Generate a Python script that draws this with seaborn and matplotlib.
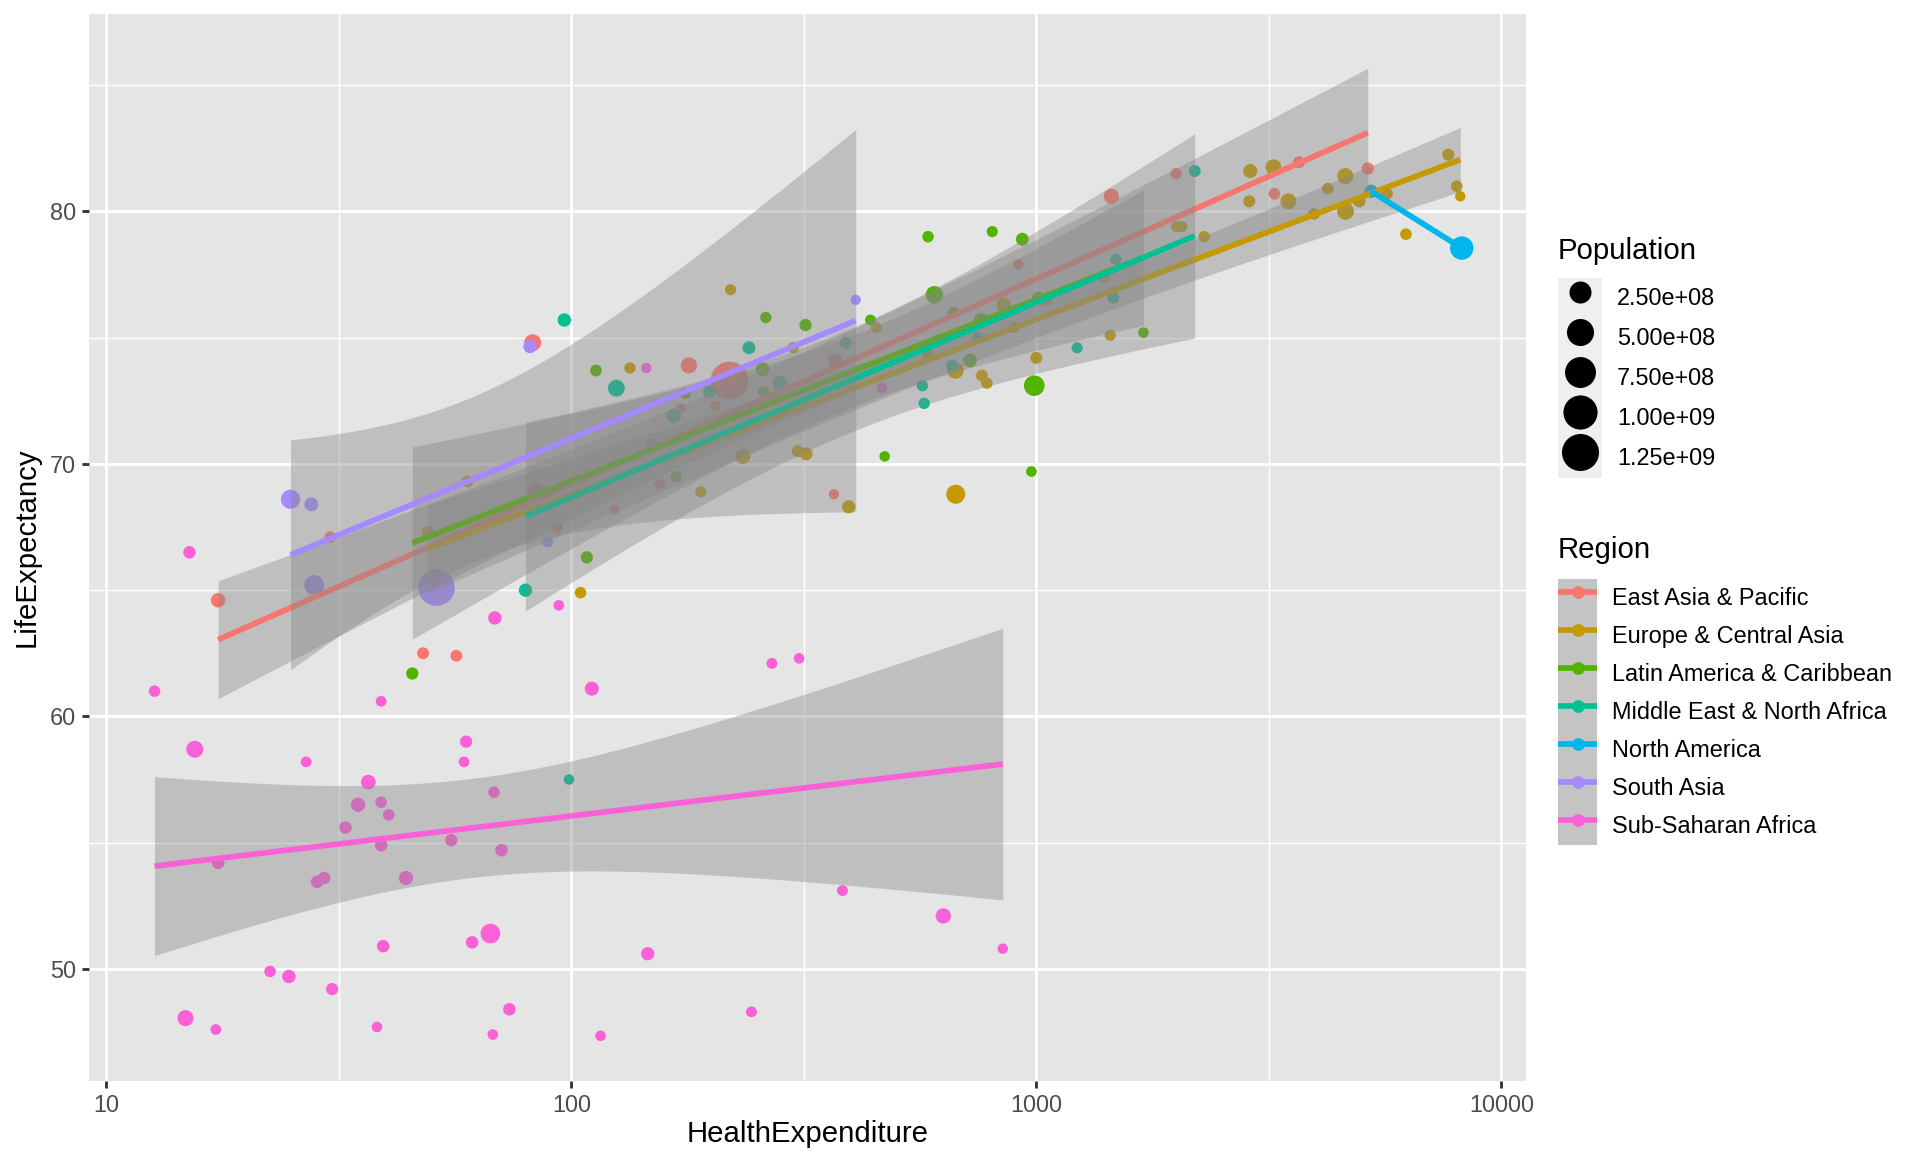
"""
Life expectancy vs health expenditure by region, ggplot-style, with per-region lm fits.
"""

import numpy as np
import pandas as pd
import matplotlib
matplotlib.use("Agg")
import matplotlib.pyplot as plt
import seaborn as sns
from matplotlib.lines import Line2D
from matplotlib.patches import Patch
from matplotlib.ticker import FixedLocator, FixedFormatter, NullFormatter

# ---- data --------------------------------------------------------------------
regions = ["East Asia & Pacific", "Europe & Central Asia", "Latin America & Caribbean",
           "Middle East & North Africa", "North America", "South Asia", "Sub-Saharan Africa"]
palette = ["#F8766D", "#C49A00", "#53B400", "#00C094", "#00B6EB", "#A58AFF", "#FB61D7"]

eap_health = [17.4, 30.3, 48.0, 56.6, 82.6, 84.0, 93.3, 124, 149, 155, 172, 179, 204, 219,
              367, 369, 915, 1450, 1999, 3252, 3672, 5162]
eap_life = [64.6, 67.1, 62.5, 62.4, 74.8, 68.9, 67.45, 68.2, 70.8, 69.2, 72.2, 73.9, 72.3, 73.3,
            68.8, 74.1, 77.9, 80.6, 81.5, 80.7, 81.95, 81.7]
eap_pop = [35, 4, 7, 6, 87, 94, 0.55, 0.1, 2.8, 0.9, 0.25, 67, 0.7, 1340,
           0.4, 28, 0.3, 49, 4.4, 5.1, 7, 10]

eca_health = [49.1, 59.8, 104.7, 133.7, 190, 220, 234, 300, 307, 320, 395, 453, 586, 670, 671,
              764, 783, 851, 895, 1000, 1051, 1402, 1442, 2004, 2055, 2296, 2871, 2884, 3236,
              3484, 3955, 4235, 4617, 4624, 4952, 5672, 6236, 7691, 8022, 8161]
eca_life = [67.3, 69.3, 64.9, 73.8, 68.9, 76.9, 70.3, 74.6, 70.5, 70.4, 68.3, 75.4, 74.3, 73.7, 68.8,
            73.5, 73.2, 76.3, 75.4, 74.2, 76.5, 77.4, 75.1, 79.4, 79.4, 79.0, 80.4, 81.6, 81.75,
            80.4, 79.9, 80.9, 81.4, 80.0, 80.4, 80.7, 79.1, 82.25, 81.0, 80.6]
eca_pop = [7, 5, 5, 3.6, 3, 3, 46, 3, 9, 16, 20, 2, 4, 73, 143,
           7, 4, 38, 2, 7, 4, 5, 3, 3, 3, 4, 8, 30, 60,
           62, 5, 5, 65, 82, 9, 8, 5, 8, 5, 0.5]

lac_health = [45.5, 108, 113, 168, 176, 258, 259, 262, 319, 440, 472, 585, 604, 663, 720, 761,
              804, 933, 976, 990, 1008, 1700]
lac_life = [61.7, 66.3, 73.7, 69.5, 72.8, 73.75, 72.85, 75.8, 75.5, 75.7, 70.3, 79.0, 76.7, 76.0,
            74.1, 75.7, 79.2, 78.9, 69.7, 73.1, 76.6, 75.2]
lac_pop = [10, 10, 6, 3, 5, 25, 3, 4, 10, 2, 0.8, 4.5, 100, 3, 25, 30, 3, 15, 1.3, 195, 3, 1]

mena_health = [79.7, 96.6, 98.9, 125, 166, 198, 241, 281, 389, 569, 574, 658, 748, 1224, 1463,
               1483, 2191]
mena_life = [65.0, 75.7, 57.5, 73.0, 71.9, 72.85, 74.6, 73.2, 74.8, 73.1, 72.4, 73.9, 75.0, 74.6,
             76.6, 78.1, 81.6]
mena_pop = [20, 21, 0.8, 80, 32, 12, 15, 40, 5, 4, 4, 7, 2, 3, 8, 3, 7]

na_health = [5248, 8220]
na_life = [80.8, 78.55]
na_pop = [20, 310]

sa_health = [24.9, 27.6, 28.0, 51.3, 81.5, 89.0, 409]
sa_life = [68.6, 68.4, 65.2, 65.1, 74.65, 66.9, 76.5]
sa_pop = [150, 27, 170, 1200, 20, 0.7, 0.3]

ssa_health = [12.7, 15.1, 15.5, 17.4, 14.8, 17.2, 22.5, 24.7, 26.9, 30.6, 28.4, 29.4, 32.7, 34.8,
              36.6, 39.0, 40.5, 39.0, 39.0, 38.2, 39.4, 44.1, 55.2, 58.8, 59.4, 61.2, 67.0, 68.2,
              68.5, 70.8, 73.6, 67.8, 94.0, 110.7, 115.6, 146, 145, 244, 270, 309, 383, 466, 631, 847]
ssa_life = [61.0, 66.5, 58.7, 54.2, 48.05, 47.6, 49.9, 49.7, 58.2, 49.2, 53.45, 53.6, 55.6, 56.5,
            57.4, 56.6, 56.1, 54.9, 60.6, 47.7, 50.9, 53.6, 55.1, 58.2, 59.0, 51.05, 51.4, 57.0,
            63.9, 54.7, 48.4, 47.4, 64.4, 61.1, 47.35, 50.6, 73.8, 48.3, 62.1, 62.3, 53.1, 73.0,
            52.1, 50.8]
ssa_pop = [5, 12, 85, 12, 66, 1.4, 5, 22, 1.5, 9, 12, 12, 12, 34,
           38, 5, 5, 12, 1.5, 1, 12, 33, 10, 1.5, 10, 12, 160, 5,
           22, 12, 12, 1, 1, 30, 1, 20, 0.5, 2, 2, 1, 2, 1.3, 50, 0.7]

pop_breaks = [2.5e8, 5.0e8, 7.5e8, 1.0e9, 1.25e9]

health = [eap_health, eca_health, lac_health, mena_health, na_health, sa_health, ssa_health]
life = [eap_life, eca_life, lac_life, mena_life, na_life, sa_life, ssa_life]
pops = [eap_pop, eca_pop, lac_pop, mena_pop, na_pop, sa_pop, ssa_pop]

df = pd.concat(
    [pd.DataFrame({"HealthExpenditure": he, "LifeExpectancy": le,
                   "Population": np.array(p) * 1e6, "Region": name})
     for name, he, le, p in zip(regions, health, life, pops)],
    ignore_index=True,
)

# ---- sizing helpers ------------------------------------------------------------
DPI = 192
PX2PT = 72 / DPI
pmin, pmax = df["Population"].min(), df["Population"].max()


def diam_px(p):
    # ggplot scale_size: diameter grows with sqrt of rescaled value
    return 9.9 + 28.1 * np.sqrt((p - pmin) / (pmax - pmin))


size_map = {p: (diam_px(p) * PX2PT) ** 2 for p in df["Population"].unique()}


def t975(dof):
    # Cornish-Fisher expansion of the 97.5% t quantile
    z = 1.959963985
    g1 = (z**3 + z) / 4
    g2 = (5 * z**5 + 16 * z**3 + 3 * z) / 96
    g3 = (3 * z**7 + 19 * z**5 + 17 * z**3 - 15 * z) / 384
    g4 = (79 * z**9 + 776 * z**7 + 1482 * z**5 - 1920 * z**3 - 945 * z) / 92160
    return z + g1 / dof + g2 / dof**2 + g3 / dof**3 + g4 / dof**4


def legend_hh(px, fs_px):
    # matplotlib's legend row height is fs*(hh - 0.35*(hh - 0.7)); solve for hh
    return (px / fs_px - 0.245) / 0.65


# ---- plot ------------------------------------------------------------------------
plt.rcParams["font.family"] = ["Liberation Sans", "DejaVu Sans"]

PANEL_BG = "#E5E5E5"
RIBBON = "#868686"

fig = plt.figure(figsize=(10, 6), dpi=DPI)
ax = fig.add_axes([89 / 1920, 1 - 1081 / 1152, 1437 / 1920, 1067 / 1152])
ax.set_facecolor(PANEL_BG)
ax.set_xscale("log")

sns.scatterplot(data=df, x="HealthExpenditure", y="LifeExpectancy", hue="Region",
                hue_order=regions, palette=palette, size="Population", sizes=size_map,
                linewidth=0, legend=False, ax=ax, zorder=2)

for i, (name, color) in enumerate(zip(regions, palette)):
    sub = df[df["Region"] == name]
    u = np.log10(sub["HealthExpenditure"].to_numpy())
    y = sub["LifeExpectancy"].to_numpy()
    n = len(u)
    slope, icpt = np.polyfit(u, y, 1)
    grid = np.linspace(u.min(), u.max(), 80)
    fit = icpt + slope * grid
    if n > 2:
        resid = y - (icpt + slope * u)
        s = np.sqrt(np.sum(resid**2) / (n - 2))
        se = s * np.sqrt(1 / n + (grid - u.mean())**2 / np.sum((u - u.mean())**2))
        t = t975(n - 2)
        ax.fill_between(10**grid, fit - t * se, fit + t * se, color=RIBBON, alpha=0.4,
                        linewidth=0, zorder=3 + 2 * i)
    ax.plot(10**grid, fit, color=color, linewidth=2.13, solid_capstyle="butt", zorder=4 + 2 * i)

ax.set_xlim(9.18, 11300)
ax.set_ylim(45.56, 87.82)
ax.xaxis.set_major_locator(FixedLocator([10, 100, 1000, 10000]))
ax.xaxis.set_major_formatter(FixedFormatter(["10", "100", "1000", "10000"]))
ax.xaxis.set_minor_locator(FixedLocator(10 ** np.array([1.5, 2.5, 3.5])))
ax.xaxis.set_minor_formatter(NullFormatter())
ax.yaxis.set_major_locator(FixedLocator([50, 60, 70, 80]))
ax.yaxis.set_minor_locator(FixedLocator([55, 65, 75, 85]))

ax.grid(which="major", color="white", linewidth=1.07)
ax.grid(which="minor", color="white", linewidth=0.53)
ax.set_axisbelow(True)
for sp in ax.spines.values():
    sp.set_visible(False)
ax.tick_params(which="major", length=2.75, width=1.07, color="#333333",
               labelcolor="#4D4D4D", labelsize=8.8, pad=2.2)
ax.tick_params(which="minor", length=0)

ax.set_xlabel("HealthExpenditure", fontsize=11, color="black")
ax.set_ylabel("LifeExpectancy", fontsize=11, color="black")
ax.xaxis.set_label_coords(0.5, (1081 - 1134) / 1067)
ax.xaxis.label.set_va("center")
ax.yaxis.set_label_coords((27 - 89) / 1437, 0.5)
ax.yaxis.label.set_va("center")

# ---- legends (drawn by hand, ggplot layout) ------------------------------------
fs = 8.8
fs_px = fs * DPI / 72

pop_handles = [
    (Patch(facecolor="#EFEFEF", edgecolor="none"),
     Line2D([], [], linestyle="", marker="o", markersize=diam_px(v) * PX2PT,
            markerfacecolor="black", markeredgewidth=0))
    for v in pop_breaks
]
pop_labels = [f"{v:.2e}" for v in pop_breaks]
fig.text(1558 / 1920, 1 - 251 / 1152, "Population", fontsize=11, va="center", ha="left")
leg1 = fig.legend(pop_handles, pop_labels, loc="upper left",
                  bbox_to_anchor=(1558 / 1920, 1 - 278 / 1152), frameon=False, fontsize=fs,
                  handlelength=44 / fs_px, handleheight=legend_hh(40, fs_px),
                  handletextpad=15 / fs_px, labelspacing=0, borderpad=0, borderaxespad=0)

reg_handles = [
    (Patch(facecolor="#C4C4C4", edgecolor="none"),
     Line2D([], [], color=c, linewidth=2.13, solid_capstyle="butt", marker="o",
            markersize=12.7 * PX2PT, markeredgewidth=0))
    for c in palette
]
fig.text(1558 / 1920, 1 - 550 / 1152, "Region", fontsize=11, va="center", ha="left")
leg2 = fig.legend(reg_handles, regions, loc="upper left",
                  bbox_to_anchor=(1558 / 1920, 1 - 579 / 1152), frameon=False, fontsize=fs,
                  handlelength=39 / fs_px, handleheight=legend_hh(38, fs_px),
                  handletextpad=15 / fs_px, labelspacing=0, borderpad=0, borderaxespad=0)

fig.savefig("out.png", dpi=DPI, facecolor="white")
